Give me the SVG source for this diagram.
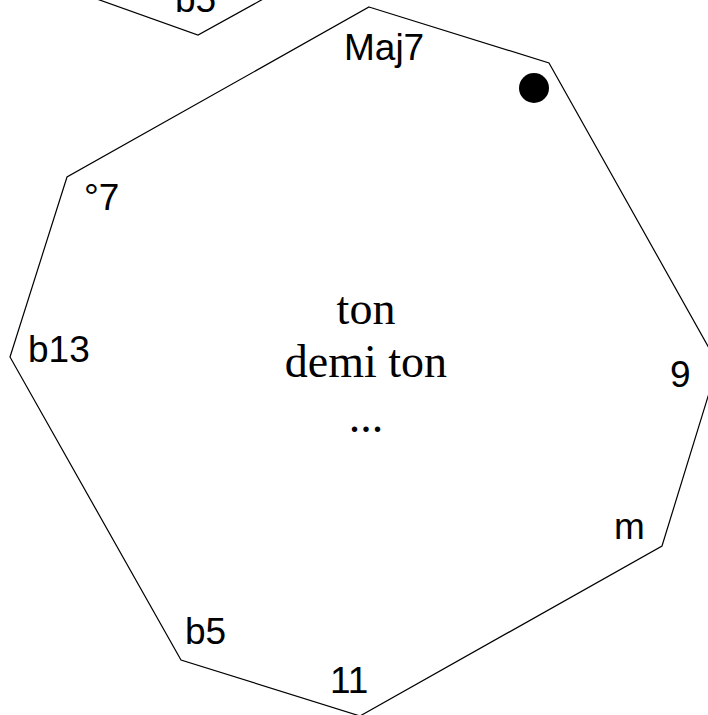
<svg xmlns="http://www.w3.org/2000/svg" width="708" height="715" viewBox="0 0 708 715">
<style>
.shape{fill:none;stroke:#000;stroke-width:1.2;stroke-linejoin:miter}
.lbl{font-family:"Liberation Sans",Arial,sans-serif;font-size:37px;fill:#000}
.ctr{font-family:"Liberation Serif","Times New Roman",serif;font-size:46px;fill:#000;text-anchor:middle}
</style>
<rect width="708" height="715" fill="#fff"/>
<g id="prev-octagon">
<polyline class="shape" points="94,-2 198,35 265,-2"/>
<text class="lbl" x="175" y="12">b5</text>
</g>
<g id="octagon">
<polygon class="shape" points="369,7 549,63 718,364 662,546 360,716 181,660 10,357 67,177"/>
<circle cx="534" cy="88" r="15" fill="#000"/>
<text class="lbl" x="344" y="60">Maj7</text>
<text class="lbl" x="670" y="387">9</text>
<text class="lbl" x="614" y="539">m</text>
<text class="lbl" x="330" y="693">11</text>
<text class="lbl" x="185" y="644">b5</text>
<text class="lbl" x="28" y="362">b13</text>
<text class="lbl" x="84" y="210">°7</text>
</g>
<g id="center">
<text class="ctr" x="366" y="324">ton</text>
<text class="ctr" x="366" y="377">demi ton</text>
<text class="ctr" x="366" y="432">...</text>
</g>
<g id="connectors"/>
</svg>
